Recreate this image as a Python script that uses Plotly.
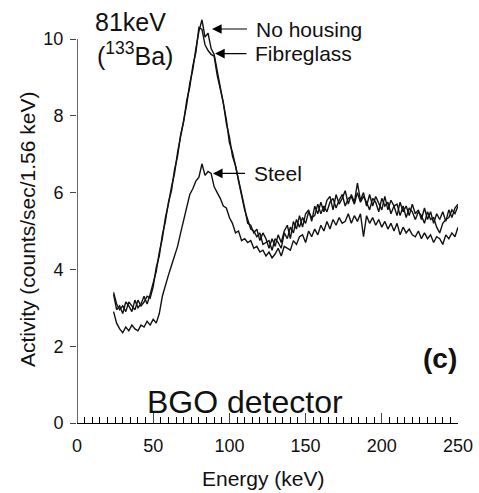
import plotly.graph_objects as go

energy = [24, 26, 28, 30, 32, 34, 36, 38, 40, 42,
          44, 46, 48, 50, 52, 54, 56, 58, 60, 62,
          64, 66, 68, 70, 72, 74, 76, 78, 80, 82,
          84, 86, 88, 90, 92, 94, 96, 98, 100, 102,
          104, 106, 108, 110, 112, 114, 116, 118, 120, 122,
          124, 126, 128, 130, 132, 134, 136, 138, 140, 142,
          144, 146, 148, 150, 152, 154, 156, 158, 160, 162,
          164, 166, 168, 170, 172, 174, 176, 178, 180, 182,
          184, 186, 188, 190, 192, 194, 196, 198, 200, 202,
          204, 206, 208, 210, 212, 214, 216, 218, 220, 222,
          224, 226, 228, 230, 232, 234, 236, 238, 240, 242,
          244, 246, 248, 250]

no_housing = [3.35, 2.95, 3.05, 2.85, 3.15, 3.05, 2.9, 3.2, 3.0, 3.1,
              3.3, 3.1, 3.35, 3.65, 3.95, 4.45, 4.8, 5.35, 5.7, 6.15,
              6.5, 7.05, 7.45, 7.95, 8.3, 8.85, 9.2, 9.75, 10.2, 10.5,
              10.05, 10.15, 9.75, 9.6, 9.15, 8.8, 8.25, 7.9, 7.3, 7.05,
              6.7, 6.35, 6.0, 5.6, 5.2, 5.15, 4.95, 5.05, 4.75, 4.95,
              4.8, 4.55, 4.8, 4.6, 4.9, 4.7, 5.0, 5.15, 4.8, 5.25,
              5.05, 5.4, 5.1, 5.45, 5.55, 5.25, 5.65, 5.45, 5.75, 5.5,
              5.8, 5.9, 5.55, 5.95, 5.7, 5.85, 6.05, 5.7, 5.95, 5.75,
              6.25, 5.8, 6.0, 5.65, 5.95, 5.65, 5.9, 5.7, 5.55, 5.9,
              5.55, 5.8, 5.65, 5.4, 5.75, 5.5, 5.65, 5.4, 5.7, 5.45,
              5.55, 5.3, 5.6, 5.3, 5.5, 5.2, 5.45, 5.3, 5.5, 5.25,
              5.55, 5.35, 5.6, 5.7]

fibreglass = [3.4, 3.1, 2.95, 3.05, 2.9, 3.15, 3.05, 2.95, 3.2, 3.05,
              3.15, 3.3, 3.25, 3.55, 4.05, 4.35, 4.9, 5.25, 5.75, 6.05,
              6.6, 6.95, 7.5, 7.85, 8.4, 8.75, 9.3, 9.65, 10.3, 10.25,
              9.85, 9.7, 9.6, 9.55, 9.05, 8.7, 8.35, 7.8, 7.45, 6.95,
              6.7, 6.3, 5.95, 5.55, 5.3, 5.05, 5.0, 4.85, 4.95, 4.65,
              4.7, 4.75, 4.5, 4.8, 4.7, 4.55, 4.95, 4.8, 5.1, 4.95,
              5.3, 5.1, 5.35, 5.2, 5.5, 5.35, 5.4, 5.7, 5.45, 5.65,
              5.5, 5.75, 5.85, 5.6, 5.8, 5.95, 5.65, 5.85, 5.9, 5.7,
              6.0, 5.75, 5.9, 5.75, 5.55, 5.85, 5.75, 5.5, 5.85, 5.65,
              5.75, 5.45, 5.65, 5.7, 5.4, 5.65, 5.35, 5.6, 5.5, 5.3,
              5.5, 5.4, 5.2, 5.5, 5.3, 5.35, 5.1, 4.95, 5.2, 5.3,
              5.35, 5.55, 5.45, 5.65]

steel = [2.9, 2.6, 2.45, 2.35, 2.5, 2.4, 2.55, 2.45, 2.4, 2.55,
         2.5, 2.65, 2.55, 2.7, 2.6, 2.85, 3.3, 3.6, 3.85, 4.1,
         4.35, 4.6, 4.95, 5.3, 5.65, 5.95, 6.1, 6.3, 6.4, 6.75,
         6.45, 6.55, 6.5, 6.15, 6.0, 5.85, 5.65, 5.6, 5.35, 5.2,
         4.95, 5.0, 4.75, 4.8, 4.7, 4.75, 4.55, 4.6, 4.45, 4.5,
         4.35, 4.45, 4.3, 4.4, 4.55, 4.35, 4.6, 4.55, 4.5, 4.75,
         4.65, 4.85, 4.9, 4.7, 5.0, 4.85, 5.05, 4.9, 5.15, 5.0,
         5.25, 5.05, 5.3, 5.15, 5.35, 5.2, 5.25, 5.45, 5.2, 5.4,
         5.25, 5.45, 4.85, 5.4, 5.2, 5.35, 5.15, 5.3, 5.1, 5.25,
         5.05, 5.2, 5.0, 5.2, 4.9, 5.1, 4.95, 5.05, 4.9, 4.85,
         5.0, 4.8, 4.95, 4.8, 4.9, 4.7, 4.85, 4.8, 4.65, 4.9,
         4.8, 4.95, 4.85, 5.1]

x_ticks = [0, 50, 100, 150, 200, 250]
y_ticks = [0, 2, 4, 6, 8, 10]

FONT = "Liberation Sans, Arial, Helvetica, sans-serif"
line_style = dict(color="#111111", width=1.4)

fig = go.Figure()
for name, vals in [("No housing", no_housing), ("Fibreglass", fibreglass), ("Steel", steel)]:
    fig.add_trace(go.Scatter(x=energy, y=vals, mode="lines", name=name, line=line_style,
                             showlegend=False))

y_top = 418 / 38.4

fig.update_layout(
    width=479, height=493,
    margin=dict(l=77, r=21, t=5, b=70),
    paper_bgcolor="white", plot_bgcolor="white",
    font=dict(family=FONT, color="#111111", size=18),
    xaxis=dict(range=[0, 250], tickvals=x_ticks, ticks="inside", ticklen=10, tickwidth=1.2,
               showline=True, linecolor="black", linewidth=1.2, showgrid=False, zeroline=False,
               minor=dict(dtick=5, ticks="inside", ticklen=6, tickwidth=1, tickcolor="black"),
               tickfont=dict(size=18), ticklabelstandoff=6),
    yaxis=dict(range=[0, y_top], tickvals=y_ticks, ticks="outside", ticklen=6, tickwidth=1.2,
               showline=False, showgrid=False, zeroline=False, tickfont=dict(size=18),
               ticklabelstandoff=3),
)

# y axis line only up to 10
fig.add_shape(type="line", xref="x", yref="y", x0=0, x1=0, y0=0, y1=10,
              line=dict(color="black", width=1.2))

ann = []
ann.append(dict(x=10.5, y=10.45, xref="x", yref="y", text="81keV", showarrow=False,
                xanchor="left", yanchor="middle", font=dict(size=25)))
ann.append(dict(x=11.5, y=9.6, xref="x", yref="y", text="(<sup>133</sup>Ba)", showarrow=False,
                xanchor="left", yanchor="middle", font=dict(size=25)))
# (label, arrow tip x, arrow tip y, label centre x)
labels = [("No housing", 88.6, 10.26, 151.9),
          ("Fibreglass", 90.6, 9.62, 148.6),
          ("Steel", 89.2, 6.5, 131.6)]
for text, tx, ty, cx in labels:
    ann.append(dict(x=tx, y=ty, xref="x", yref="y", ax=cx, ay=ty, axref="x", ayref="y",
                    text=text, showarrow=True, arrowhead=2, arrowsize=1.6, arrowwidth=1.2,
                    arrowcolor="black", startstandoff=7, font=dict(size=21)))
ann.append(dict(x=110, y=0.55, xref="x", yref="y", text="BGO detector", showarrow=False,
                xanchor="center", yanchor="middle", font=dict(size=32)))
ann.append(dict(x=238, y=1.69, xref="x", yref="y", text="<b>(c)</b>", showarrow=False,
                xanchor="center", yanchor="middle", font=dict(size=28)))
ann.append(dict(x=(263 - 77) / 381, y=(423 - 478) / 418, xref="paper", yref="paper",
                text="Energy (keV)", showarrow=False, xanchor="center", yanchor="middle",
                font=dict(size=21)))
ann.append(dict(x=(27 - 77) / 381, y=(423 - 230) / 418, xref="paper", yref="paper",
                text="Activity (counts/sec/1.56 keV)", showarrow=False, textangle=-90,
                xanchor="center", yanchor="middle", font=dict(size=21)))
fig.update_layout(annotations=ann)

fig.write_html("out.html")
